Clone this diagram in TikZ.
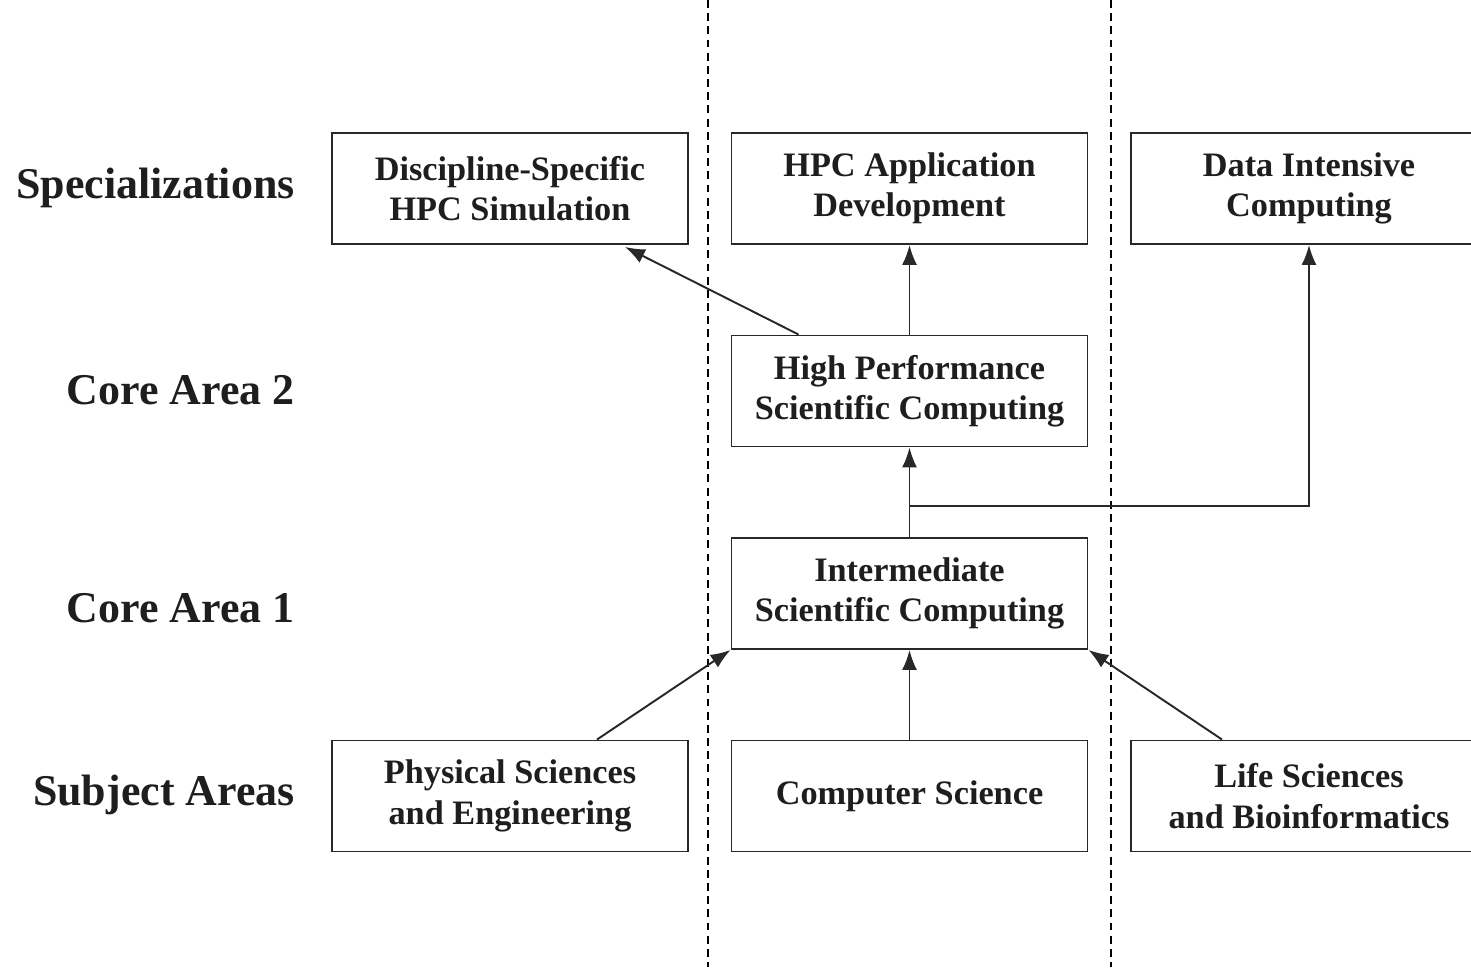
\documentclass[tikz,border=0pt]{standalone}
\usepackage{fontspec}
\setmainfont{Liberation Serif}
\usepackage{xcolor}
\usepackage{tikz}
\usetikzlibrary{arrows.meta}
\definecolor{boxline}{RGB}{40,40,40}
\definecolor{textgray}{RGB}{30,30,30}

\begin{document}
\begin{tikzpicture}[node distance=4.05cm, >={Latex[length=4mm,width=3mm]}]
    \tikzstyle{course} = [rectangle, minimum width=7.12cm, minimum height=2.22cm, align=center, draw=boxline, line width=1.1pt, text=textgray, font=\bfseries\fontsize{19.5}{23}\selectfont]
    \tikzstyle{rowlabel} = [anchor=east, inner sep=0pt, text=textgray, font=\bfseries\fontsize{25}{30}\selectfont]
    \tikzstyle{divider} = [line width=0.8pt, dash pattern=on 4.5pt off 3pt]
    \tikzstyle{link} = [->, line width=1.1pt, draw=boxline]

    \useasboundingbox (0,0) rectangle (29.42,19.34);
    \clip (0,0) rectangle (29.42,19.34);

    % Column dividers
    \coordinate (div_a_top) at (14.16,19.34);
    \coordinate (div_a_bot) at (14.16,0);
    \coordinate (div_b_top) at (22.22,19.34);
    \coordinate (div_b_bot) at (22.22,0);
    \draw [divider] (div_a_top) -- (div_a_bot);
    \draw [divider] (div_b_top) -- (div_b_bot);

    % Specializations
    \node [course, fill=white] (disc_sim) at (10.2,15.57) {Discipline-Specific\\HPC Simulation};
    \node [course, fill=white, right of=disc_sim, xshift=3.94cm] (hpc_app) {HPC Application\\Development};
    \node [course, fill=white, right of=hpc_app, xshift=3.94cm] (data_int) {Data Intensive\\Computing};

    % Core areas
    \node [course, fill=white, below of=hpc_app] (hpsc) {High Performance\\Scientific Computing};
    \node [course, fill=white, below of=hpsc] (inter_sc) {Intermediate\\Scientific Computing};

    % Subject areas
    \node [course, fill=white, below of=inter_sc] (comp_sci) {Computer Science};
    \node [course, fill=white, left of=comp_sci, xshift=-3.94cm] (phys_eng) {Physical Sciences\\and Engineering};
    \node [course, fill=white, right of=comp_sci, xshift=3.94cm] (life_bio) {Life Sciences\\and Bioinformatics};

    % Row labels
    \node [rowlabel] (lbl_spec) at (5.9,15.58) {Specializations};
    \node [rowlabel] (lbl_core2) at (5.9,11.54) {Core Area 2};
    \node [rowlabel] (lbl_core1) at (5.9,7.18) {Core Area 1};
    \node [rowlabel] (lbl_subj) at (5.9,3.44) {Subject Areas};

    % Arrows
    \draw [link] ([xshift=-2.22cm]hpsc.north) -- ([xshift=2.3cm,yshift=-0.04cm]disc_sim.south);
    \draw [link] (hpsc.north) -- (hpc_app.south);
    \draw [link] (inter_sc.north) -- (hpsc.south);
    \draw [link] ([yshift=0.62cm]inter_sc.north) -| (data_int.south);
    \draw [link] ([xshift=1.74cm]phys_eng.north) -- (inter_sc.south west);
    \draw [link] (comp_sci.north) -- (inter_sc.south);
    \draw [link] ([xshift=-1.74cm]life_bio.north) -- (inter_sc.south east);
\end{tikzpicture}
\end{document}
